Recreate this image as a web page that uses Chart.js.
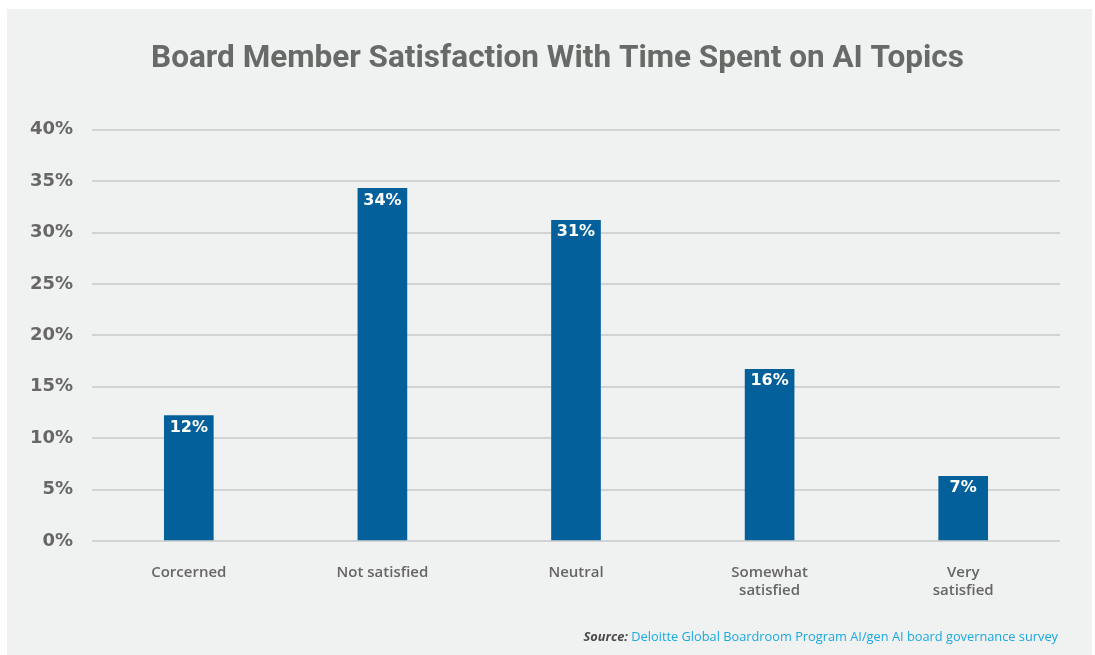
<!DOCTYPE html>
<html>
<head>
<meta charset="utf-8">
<script src="https://cdn.jsdelivr.net/npm/chart.js@4.4.1/dist/chart.umd.min.js"></script>
<style>
  html, body { margin: 0; padding: 0; background: #ffffff; }
  body { width: 1095px; height: 655px; position: relative; overflow: hidden; }
  #panel { position: absolute; left: 7px; top: 9px; width: 1085px; height: 646px; background: #f0f1f1; }
  #c { position: absolute; left: 0; top: 0; }
  #source { position: absolute; right: 34px; top: 618px; font-family: "Open Sans", sans-serif; font-size: 12.8px; color: #1aa9e0; white-space: nowrap; }
  #source b { color: #4a4a4a; font-style: italic; font-weight: 700; }
</style>
</head>
<body>
<div id="panel">
  <canvas id="c" width="1085" height="646"></canvas>
  <div id="source"><b>Source:</b> Deloitte Global Boardroom Program AI/gen AI board governance survey</div>
</div>
<script>
const categories = ["Corcerned", "Not satisfied", "Neutral", ["Somewhat", "satisfied"], ["Very", "satisfied"]];
const values = [12.2, 34.3, 31.2, 16.7, 6.3];
const valueLabels = ["12%", "34%", "31%", "16%", "7%"];
const yTickMax = 40;
const yTickStep = 5;
const chartTitle = "Board Member Satisfaction With Time Spent on AI Topics";

const barLabelPlugin = {
  id: 'barLabels',
  afterDatasetsDraw(chart) {
    const ctx = chart.ctx;
    const meta = chart.getDatasetMeta(0);
    ctx.save();
    ctx.fillStyle = '#ffffff';
    ctx.font = 'bold 16px "DejaVu Sans"';
    ctx.textAlign = 'center';
    ctx.textBaseline = 'top';
    meta.data.forEach((bar, i) => {
      ctx.fillText(valueLabels[i], bar.x, bar.y + 4);
    });
    ctx.restore();
  }
};

new Chart(document.getElementById('c'), {
  type: 'bar',
  data: {
    labels: categories,
    datasets: [{
      data: values,
      backgroundColor: '#03609b',
      borderWidth: 0,
      barThickness: 49
    }]
  },
  options: {
    responsive: false,
    animation: false,
    layout: { padding: { left: 16, right: 0, top: 0, bottom: 0 } },
    plugins: {
      legend: { display: false },
      tooltip: { enabled: false },
      title: {
        display: true,
        text: chartTitle,
        color: '#686a67',
        font: { family: 'Roboto, "Open Sans", sans-serif', size: 31.5, weight: 'bold', lineHeight: 1.2 },
        padding: { top: 31, bottom: 52 }
      }
    },
    scales: {
      x: {
        grid: { display: false, drawTicks: false },
        border: { display: false },
        ticks: {
          color: '#666666',
          font: { family: '"Open Sans", sans-serif', size: 15, weight: '600', lineHeight: 1.2 },
          padding: 23,
          maxRotation: 0,
          autoSkip: false
        },
        afterFit(scale) { scale.height = 114; }
      },
      y: {
        min: 0,
        max: yTickMax,
        grid: { color: '#d2d3d3', lineWidth: 2, drawTicks: false },
        border: { display: false },
        ticks: {
          stepSize: yTickStep,
          color: '#676767',
          font: { family: '"DejaVu Sans", sans-serif', size: 18, weight: 'bold' },
          padding: 19,
          callback: v => v + '%'
        },
        afterFit(scale) { scale.width = 69; }
      },
      yRight: {
        position: 'right',
        display: true,
        grid: { display: false, drawTicks: false },
        border: { display: false },
        ticks: { display: false },
        afterFit(scale) { scale.width = 32; }
      }
    }
  },
  plugins: [barLabelPlugin]
});
</script>
</body>
</html>
